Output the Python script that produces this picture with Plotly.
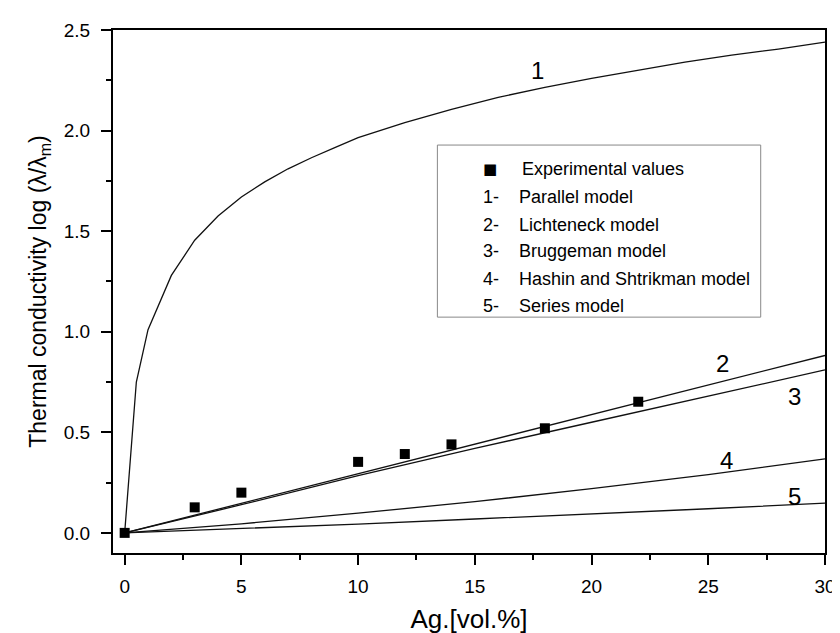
import plotly.graph_objects as go

# ---------------------------------------------------------------
# data
# ---------------------------------------------------------------
ag_exp = [0, 3, 5, 10, 12, 14, 18, 22]
k_exp = [0, 0.127, 0.20, 0.353, 0.392, 0.44, 0.52, 0.652]

ag_parallel = [0, 0.5, 1, 2, 3, 4, 5, 6, 7, 8, 9, 10, 12, 14, 16, 18, 20, 22, 24, 26, 28, 30]
k_parallel = [0, 0.75, 1.01, 1.28, 1.455, 1.575, 1.67, 1.745, 1.81, 1.865, 1.915, 1.965,
              2.04, 2.105, 2.165, 2.215, 2.26, 2.30, 2.34, 2.375, 2.405, 2.44]

ag_model = [0, 5, 10, 15, 20, 25, 30]
k_lichteneck = [0, 0.147, 0.294, 0.441, 0.588, 0.735, 0.882]
k_bruggeman = [0, 0.14, 0.285, 0.42, 0.55, 0.68, 0.81]
k_hashin = [0, 0.045, 0.098, 0.155, 0.22, 0.29, 0.368]
k_series = [0, 0.021, 0.044, 0.069, 0.094, 0.12, 0.148]

curve_ids = ["1", "2", "3", "4", "5"]
curve_label_x = [17.7, 25.6, 28.7, 25.8, 28.7]
curve_label_y = [2.30, 0.84, 0.68, 0.36, 0.18]

legend_nums = ["1-", "2-", "3-", "4-", "5-"]
legend_names = ["Parallel model", "Lichteneck model", "Bruggeman model",
                "Hashin and Shtrikman model", "Series model"]

FONT = "Liberation Sans, Arial, sans-serif"

fig = go.Figure()

# model curves
line_style = dict(color="#111", width=1.3)
for xs, ys in [(ag_parallel, k_parallel), (ag_model, k_lichteneck), (ag_model, k_bruggeman),
               (ag_model, k_hashin), (ag_model, k_series)]:
    fig.add_trace(go.Scatter(x=xs, y=ys, mode="lines", line=line_style, showlegend=False))

# experimental points
fig.add_trace(go.Scatter(
    x=ag_exp, y=k_exp, mode="markers",
    marker=dict(symbol="square", size=10, color="black"),
    showlegend=False,
))

# curve numbers
for t, x, y in zip(curve_ids, curve_label_x, curve_label_y):
    fig.add_annotation(x=x, y=y, text=t, showarrow=False,
                       font=dict(family=FONT, size=24, color="black"))

# legend box drawn by hand (paper coords)
fig.add_shape(type="rect", xref="paper", yref="paper",
              x0=0.4556, x1=0.9097, y0=0.451, y1=0.780,
              line=dict(color="#888", width=1), fillcolor="white", layer="below")

legend_font = dict(family=FONT, size=18, color="black")
row_y = [0.680, 0.628, 0.5765, 0.523, 0.473]
fig.add_annotation(xref="paper", yref="paper", x=0.529, y=0.734, text="■",
                   xanchor="center", yanchor="middle", showarrow=False,
                   font=dict(family="DejaVu Sans", size=15, color="black"))
fig.add_annotation(xref="paper", yref="paper", x=0.572, y=0.734, text="Experimental values",
                   xanchor="left", yanchor="middle", showarrow=False, font=legend_font)
for num, name, y in zip(legend_nums, legend_names, row_y):
    fig.add_annotation(xref="paper", yref="paper", x=0.517, y=y, text=num,
                       xanchor="left", yanchor="middle", showarrow=False, font=legend_font)
    fig.add_annotation(xref="paper", yref="paper", x=0.567, y=y, text=name,
                       xanchor="left", yanchor="middle", showarrow=False, font=legend_font)

axis_common = dict(
    showline=True, linecolor="black", linewidth=2, mirror=True,
    ticks="outside", ticklen=10, tickwidth=1.5, tickcolor="black",
    showgrid=False, zeroline=False,
    tickfont=dict(family=FONT, size=19, color="black"),
)

fig.update_xaxes(
    range=[-0.5, 30], dtick=5, tick0=0, ticklabelstandoff=5,
    minor=dict(dtick=2.5, ticks="outside", ticklen=5, tickcolor="black"),
    title=dict(text="Ag.[vol.%]", standoff=14,
               font=dict(family="Liberation Sans Narrow, " + FONT, size=26, color="black")),
    **axis_common,
)
fig.update_yaxes(
    range=[-0.1, 2.5], dtick=0.5, tick0=0, tickformat=".1f", ticklabelstandoff=7,
    minor=dict(dtick=0.25, ticks="outside", ticklen=5, tickcolor="black"),
    title=dict(text="Thermal conductivity log (λ/λ<sub>m</sub>)", standoff=11,
               font=dict(family=FONT, size=23, color="black")),
    **axis_common,
)

fig.update_layout(
    width=840, height=633,
    margin=dict(l=105, r=15, t=18, b=83),
    plot_bgcolor="white", paper_bgcolor="white",
)

fig.write_html("out.html")
